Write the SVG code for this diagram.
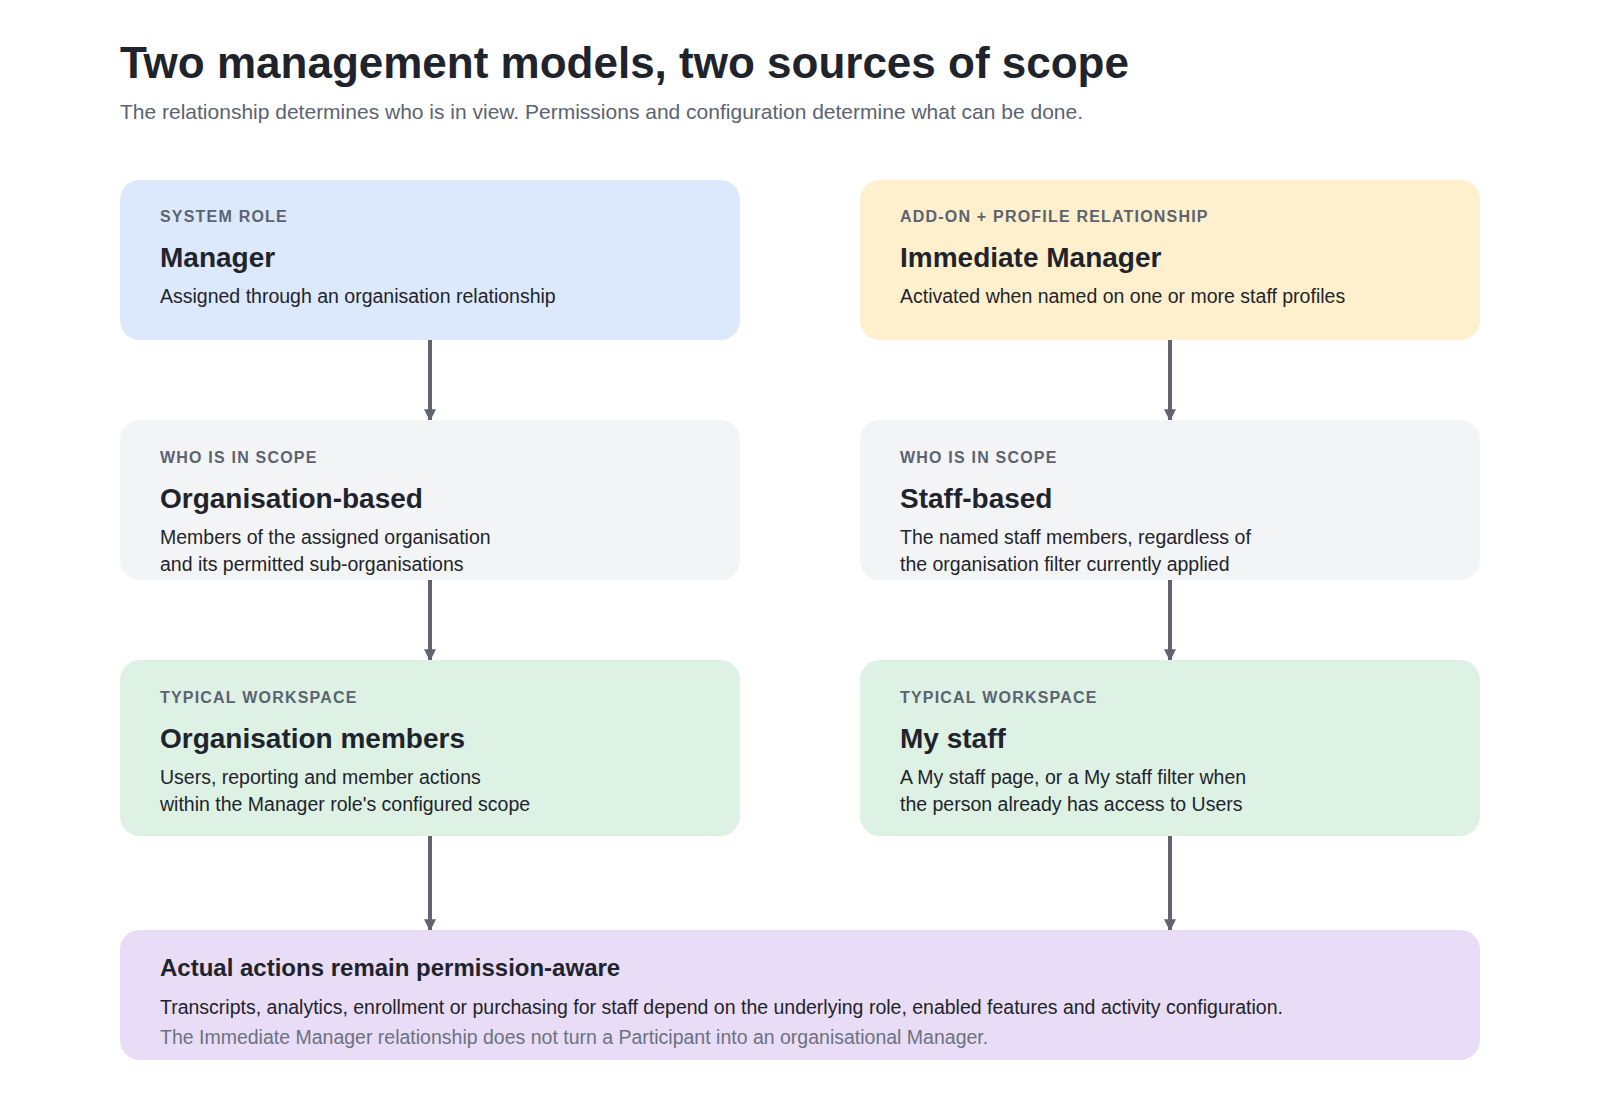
<svg xmlns="http://www.w3.org/2000/svg" width="1600" height="1120" viewBox="0 0 1600 1120">
<style>
text{font-family:"Liberation Sans",Arial,sans-serif;fill:#1f242c}
.h{font-size:44px;font-weight:bold}
.sub{font-size:21px;fill:#5b6370}
.lab{font-size:16px;font-weight:bold;letter-spacing:1.2px;fill:#5b6370}
.t{font-size:28px;font-weight:bold}
.d{font-size:19.5px}
.bt{font-size:24px;font-weight:bold}
.g{fill:#6b7280}
.c{stroke:#5f6470;stroke-width:4;fill:none;marker-end:url(#a)}
</style>
<defs><marker id="a" viewBox="0 0 10 10" refX="9" refY="5" markerWidth="3" markerHeight="3" orient="auto"><path d="M0,0L10,5L0,10z" fill="#5f6470"/></marker></defs>
<rect width="1600" height="1120" fill="#fff"/>
<text class="h" x="120" y="78">Two management models, two sources of scope</text>
<text class="sub" x="120" y="119">The relationship determines who is in view. Permissions and configuration determine what can be done.</text>
<g id="connectors">
<line class="c" x1="430" y1="340" x2="430" y2="420"/>
<line class="c" x1="430" y1="580" x2="430" y2="660"/>
<line class="c" x1="430" y1="836" x2="430" y2="930"/>
<line class="c" x1="1170" y1="340" x2="1170" y2="420"/>
<line class="c" x1="1170" y1="580" x2="1170" y2="660"/>
<line class="c" x1="1170" y1="836" x2="1170" y2="930"/>
</g>
<g id="manager"><rect x="120" y="180" width="620" height="160" rx="20" fill="#dce8fb"/>
<text class="lab" x="160" y="222">SYSTEM ROLE</text><text class="t" x="160" y="267">Manager</text>
<text class="d" x="160" y="303">Assigned through an organisation relationship</text></g>
<g id="immediate"><rect x="860" y="180" width="620" height="160" rx="20" fill="#fef0cc"/>
<text class="lab" x="900" y="222">ADD-ON + PROFILE RELATIONSHIP</text><text class="t" x="900" y="267">Immediate Manager</text>
<text class="d" x="900" y="303">Activated when named on one or more staff profiles</text></g>
<g id="orgbased"><rect x="120" y="420" width="620" height="160" rx="20" fill="#f3f4f6"/>
<text class="lab" x="160" y="463">WHO IS IN SCOPE</text><text class="t" x="160" y="508">Organisation-based</text>
<text class="d" x="160" y="544">Members of the assigned organisation</text><text class="d" x="160" y="571">and its permitted sub-organisations</text></g>
<g id="staffbased"><rect x="860" y="420" width="620" height="160" rx="20" fill="#f3f4f6"/>
<text class="lab" x="900" y="463">WHO IS IN SCOPE</text><text class="t" x="900" y="508">Staff-based</text>
<text class="d" x="900" y="544">The named staff members, regardless of</text><text class="d" x="900" y="571">the organisation filter currently applied</text></g>
<g id="orgmembers"><rect x="120" y="660" width="620" height="176" rx="20" fill="#ddf1e4"/>
<text class="lab" x="160" y="703">TYPICAL WORKSPACE</text><text class="t" x="160" y="748">Organisation members</text>
<text class="d" x="160" y="784">Users, reporting and member actions</text><text class="d" x="160" y="811">within the Manager role's configured scope</text></g>
<g id="mystaff"><rect x="860" y="660" width="620" height="176" rx="20" fill="#ddf1e4"/>
<text class="lab" x="900" y="703">TYPICAL WORKSPACE</text><text class="t" x="900" y="748">My staff</text>
<text class="d" x="900" y="784">A My staff page, or a My staff filter when</text><text class="d" x="900" y="811">the person already has access to Users</text></g>
<g id="actions"><rect x="120" y="930" width="1360" height="130" rx="20" fill="#e8dcf6"/>
<text class="bt" x="160" y="976">Actual actions remain permission-aware</text>
<text class="d" x="160" y="1014">Transcripts, analytics, enrollment or purchasing for staff depend on the underlying role, enabled features and activity configuration.</text>
<text class="d g" x="160" y="1044">The Immediate Manager relationship does not turn a Participant into an organisational Manager.</text></g>
</svg>
